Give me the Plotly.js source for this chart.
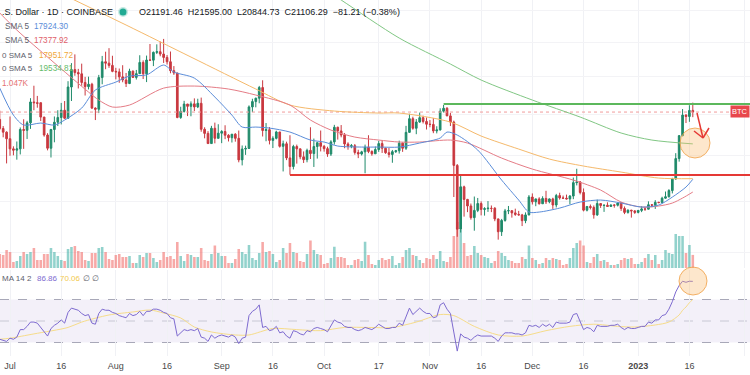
<!DOCTYPE html>
<html><head><meta charset="utf-8">
<script src="https://cdn.plot.ly/plotly-3.0.1.min.js"></script>
<style>html,body{margin:0;padding:0;background:#fff;}#chart{width:750px;height:375px;}</style>
</head><body><div id="chart"></div>
<script>
// ---- daily candles, Jun 28 2022 .. Jan 17 2023 ----
const firstDay = '2022-06-28';
const open = [20730,20280,20100,
19780,19300,19240,19300,20230,20190,20560,21630,21590,21590,20850,19960,19330,20230,20590,20830,21200,20790,22430,23400,23230,23160,22680,22450,22580,21310,21250,22950,23850,23770,23640,
23300,23270,22990,22820,22620,23310,22960,23170,23810,23160,23950,23940,24400,24440,24300,24100,23850,23340,23210,20830,21140,21520,21400,21530,21370,21560,20240,20040,19550,20290,19800,
20050,20130,19950,19830,20000,19800,18790,19290,19320,21370,21650,21830,22400,20180,20220,19700,19800,20110,19420,19540,18880,18490,19410,19300,18930,18800,19230,19080,19410,19590,
19420,19310,19060,19630,20340,20160,19960,19530,19420,19450,19130,19060,19160,19380,19180,19070,19270,19550,19330,19120,19040,19170,19210,19570,19330,20090,20770,20290,20600,20820,20630,
20490,20480,20160,20210,21150,21300,20910,20600,18540,15880,17600,17070,16800,16330,16620,16900,16660,16690,16700,16710,16280,15780,16220,16600,16610,16520,16460,16440,16210,16440,
17170,16970,17090,16890,17110,16970,17090,16840,17230,17130,17120,17090,17210,17780,17810,17360,16630,16780,16740,16440,16900,16820,16830,16780,16840,16830,16920,16700,16540,16630,16600,
16540,16620,16680,16670,16850,16830,16950,16940,17120,17180,17440,17940,18850,19930,20950,20880,21191.46];
const high = [21180,20400,20140,
20880,19420,19650,20330,20740,20660,21830,22500,21950,21600,20860,20050,20260,20880,21200,21580,21680,22750,23770,24280,23440,23740,22990,23000,22660,21350,23100,24190,24440,24650,24200,
23500,23460,23650,23210,23450,23350,23380,24230,23930,24210,24900,24450,24880,25050,25210,24240,24450,23600,23210,21380,21690,21530,21660,21820,21800,21860,20340,20150,20410,20570,20490,
20200,20440,20000,20010,20050,20180,19460,19450,21450,21800,21850,22490,22800,20550,20350,19900,20170,20110,19690,19640,19950,19490,19500,19310,19180,19310,20340,19790,19640,20180,
19480,19400,19710,20460,20370,20450,20060,19610,19530,19530,19260,19210,19500,19950,19230,19410,19680,19710,19350,19350,19250,19250,19690,19600,20410,21020,20870,20750,21080,20920,20830,
20700,20800,20390,21300,21470,21360,21060,20670,18600,18150,17650,17090,16900,17190,17130,16990,16750,17000,16820,16750,16290,16280,16680,16800,16610,16690,16600,16480,16540,17250,
17320,17100,17160,17200,17430,17110,17140,17300,17350,17230,17270,17250,18000,18390,17850,17530,16800,16860,16820,17060,16910,16860,16950,16860,16860,16940,16960,16780,16660,16640,16630,
16630,16790,16770,16990,16880,17040,16970,17180,17400,17500,17990,19100,19960,21260,21000,21460,21595.00];
const low = [20200,19850,18630,
18980,19000,18800,19040,19300,19770,20260,21200,21330,20650,19880,19230,18900,19610,20400,20480,20750,20770,21680,23050,22350,22500,21970,22300,21260,20700,21050,22580,23420,23500,23250,
22850,22660,22690,22430,22590,22930,22840,23150,22870,22700,23900,23600,24300,24170,23780,23690,23190,23100,20790,20760,21080,20900,20890,21160,21310,20120,19800,19540,19550,19560,19800,
19570,19760,19650,19600,19640,18680,18540,19020,19300,21100,21350,21560,19890,19660,19510,19340,19750,19360,18270,18780,18125,18360,18620,18820,18650,18680,18830,18470,18850,19180,
19170,18930,18970,19500,19740,19850,19330,19260,19330,19030,18870,18990,18190,19100,18980,19070,19160,19110,19070,18900,18660,19110,19080,19160,19250,20060,20220,20000,20560,20530,20230,
20340,20050,20040,20180,21080,20900,20400,17170,15588,15750,16370,16550,16250,15820,16550,16420,16410,16560,16550,16190,15480,15620,16170,16470,16330,16400,16410,16000,16110,16420,
16860,16790,16860,16880,16880,16910,16680,16740,17060,17090,17070,16870,17080,17660,17280,16580,16580,16660,16290,16400,16720,16560,16760,16760,16730,16780,16600,16470,16490,16330,16480,
16500,16550,16600,16660,16750,16680,16910,16910,17100,17150,17320,17910,18710,19900,20550,20610,20844.73];
const close = [20280,20100,19780,
19300,19240,19300,20230,20190,20560,21630,21590,21560,20850,19960,19330,20230,20590,20830,21200,20790,22430,23400,23230,23160,22680,22450,22580,21310,21250,22950,23850,23770,23640,23300,
23270,22990,22820,22620,23310,22960,23170,23810,23160,23950,23940,24400,24440,24300,24100,23850,23340,23210,20830,21140,21520,21400,21530,21370,21560,20240,20040,19550,20290,19800,20050,
20130,19950,19830,20000,19800,18790,19290,19320,21370,21650,21830,22400,20180,20220,19700,19800,20110,19420,19540,18880,18490,19410,19300,18930,18800,19230,19080,19410,19590,19420,
19310,19060,19630,20340,20160,19960,19530,19420,19450,19130,19060,19160,19380,19180,19070,19270,19550,19330,19120,19040,19170,19210,19570,19330,20090,20770,20290,20600,20820,20630,20490,
20480,20160,20210,21150,21300,20910,20600,18540,15880,17600,17070,16800,16330,16620,16900,16660,16690,16710,16700,16280,15780,16220,16600,16610,16520,16460,16440,16210,16440,17170,
16970,17090,16890,17110,16970,17090,16840,17230,17130,17120,17090,17210,17780,17810,17360,16630,16780,16740,16440,16900,16820,16830,16780,16840,16830,16920,16700,16540,16630,16600,16540,
16620,16680,16670,16850,16830,16950,16940,17120,17180,17440,17940,18850,19930,20950,20880,21187.50,21106.29];
const volumeK = [1.12,1.04,1.44,
1.28,0.48,0.56,0.96,1.28,1.12,1.28,1.6,0.64,0.64,1.12,1.12,1.6,1.28,0.96,0.64,0.56,1.52,1.68,1.76,1.36,1.28,0.64,0.56,1.2,1.2,1.6,1.68,1.28,0.72,0.64,
1.04,1.12,0.88,0.88,0.96,0.4,0.4,1.04,0.88,1.2,1.2,0.8,0.48,0.64,1.28,0.88,0.96,0.72,2.08,0.96,0.56,1.12,1.04,0.88,0.88,1.6,0.64,0.56,1.12,1.8,1.2,
0.96,0.96,0.4,0.4,0.72,1.52,1.28,1.12,1.84,0.8,0.64,1.2,2.08,1.28,1.36,1.12,0.48,0.64,1.6,1.2,2.0,1.28,1.2,0.56,0.48,1.12,2.2,1.44,1.12,1.04,
0.32,0.4,0.8,1.7,0.88,0.88,0.8,0.24,0.24,0.64,0.72,0.56,2.1,1.04,0.32,0.24,0.64,0.8,0.64,0.72,0.96,0.24,0.4,0.88,1.44,1.6,1.04,0.96,0.64,0.4,0.8,
0.72,1.04,0.72,1.36,0.56,0.48,0.88,2.56,3.68,3.04,2.0,0.96,1.04,1.76,1.2,1.04,0.88,0.8,0.4,0.56,1.36,1.2,0.96,0.64,0.56,0.4,0.4,0.88,0.72,1.8,
0.8,0.64,0.32,0.4,0.8,0.64,0.8,0.72,0.64,0.24,0.32,0.8,1.6,2.0,2.2,1.8,0.48,0.4,0.88,1.12,0.56,0.64,0.48,0.24,0.24,0.32,0.64,0.8,0.72,0.8,0.32,
0.32,0.48,0.8,1.12,0.64,1.04,0.32,0.64,1.44,1.2,1.12,2.72,2.56,2.56,1.2,1.84,1.047];
const rsi = [33,32,31,
34,33,35,42,42,45,49,49,48,44,40,36,43,46,48,51,48,58,62,61,60,57,55,56,48,47,57,61,60,60,58,
57,55,54,53,57,55,56,59,55,59,59,61,61,60,58,57,53,52,36,39,42,41,42,41,43,35,34,31,37,34,36,
37,36,35,37,35,29,34,35,55,59,61,65,44,45,41,42,45,39,40,36,34,41,40,38,37,41,40,43,44,43,
42,40,45,51,49,48,45,44,44,42,41,42,44,43,42,44,47,45,43,43,44,44,48,46,55,62,56,59,62,59,57,
57,53,54,65,67,61,57,38,22,38,35,34,32,35,37,36,36,36,36,34,31,36,39,39,39,38,38,37,39,46,
45,46,44,47,45,47,44,49,48,48,48,49,56,57,50,42,44,43,40,46,45,45,45,46,46,47,44,42,44,43,43,
44,45,45,49,48,51,51,55,56,61,68,77,83,87,86,87,86.86];

const sma20Dates = ['2022-06-28','2022-07-02','2022-07-05','2022-07-10','2022-07-14','2022-07-17','2022-07-22','2022-07-26','2022-08-01','2022-08-05','2022-08-10','2022-08-15','2022-08-18','2022-08-24','2022-08-30','2022-09-04','2022-09-07','2022-09-11','2022-09-15','2022-09-21','2022-09-27','2022-10-01','2022-10-05','2022-10-12','2022-10-17','2022-10-23','2022-10-29','2022-11-04','2022-11-06','2022-11-09','2022-11-15','2022-11-22','2022-11-27','2022-11-30','2022-12-03','2022-12-09','2022-12-15','2022-12-21','2022-12-27','2023-01-02','2023-01-07','2023-01-11','2023-01-15','2023-01-17'];
const sma20 = [22370,20950,20450,20550,20450,20700,21310,22265,22700,23035,23100,23660,23260,22920,21890,20950,20350,20350,20300,20105,19718,19623,19433,19385,19385,19385,19575,19814,20105,19958,19245,17891,17043,16553,16553,16714,16960,17043,16919,16755,16836,17166,17590,17924.30];
const sma50Dates = ['2022-06-28','2022-07-03','2022-07-13','2022-07-24','2022-07-27','2022-07-31','2022-08-05','2022-08-15','2022-08-24','2022-09-03','2022-09-11','2022-09-21','2022-09-27','2022-10-03','2022-10-10','2022-10-17','2022-10-23','2022-10-29','2022-11-07','2022-11-12','2022-11-22','2022-12-01','2022-12-13','2022-12-21','2022-12-27','2023-01-02','2023-01-07','2023-01-11','2023-01-14','2023-01-17'];
const sma50 = [26850,25760,23950,22157,21730,21364,21468,22370,22482,22320,21996,21468,20700,20203,19861,19718,19623,19623,19718,19575,18873,18375,17891,17462,16960,16755,16796,16919,17126,17377.92];
const sma100Dates = ['2022-07-15','2022-08-04','2022-08-23','2022-09-11','2022-09-21','2022-10-04','2022-10-17','2022-10-23','2022-11-07','2022-11-16','2022-11-27','2022-12-06','2022-12-16','2022-12-27','2023-01-07','2023-01-17'];
const sma100 = [28253,26075,24124,22320,21468,21157,21055,21055,20599,19911,19291,18828,18511,18242,17978,17951.72];
const sma200Dates = ['2022-09-27','2022-10-06','2022-10-23','2022-11-07','2022-11-16','2022-12-01','2022-12-15','2022-12-27','2023-01-05','2023-01-17'];
const sma200 = [29088,27709,25264,23717,22813,21730,20851,20057,19718,19534.81];
const rsiMaDates = ['2022-06-28','2022-07-01','2022-07-08','2022-07-18','2022-07-22','2022-07-30','2022-08-06','2022-08-11','2022-08-15','2022-08-20','2022-08-24','2022-08-29','2022-09-05','2022-09-09','2022-09-16','2022-09-23','2022-09-30','2022-10-07','2022-10-14','2022-10-21','2022-10-28','2022-11-04','2022-11-08','2022-11-14','2022-11-21','2022-11-28','2022-12-05','2022-12-12','2022-12-19','2022-12-26','2022-12-31','2023-01-06','2023-01-10','2023-01-13','2023-01-14','2023-01-15','2023-01-16','2023-01-17'];
const rsiMa = [33,34,38,44,49,55.6,58.4,60.2,57.4,52.8,44.4,39.8,37,37,43,42,41,44,44,44,49,56,55,45,37,36,41,45,47,45,44.4,46.3,49,55.6,60,63,67,70.06];

// ---- horizontal levels ----
const levelDates = ['2022-11-05','2022-09-21'];
const levelPrices = [21520, 18110];
const lastPrice = 21106.29;

// ---- axis ticks ----
const tickDates = ['2022-07-01','2022-07-16','2022-08-01','2022-08-16','2022-09-01','2022-09-16','2022-10-01','2022-10-17','2022-11-01','2022-11-16','2022-12-01','2022-12-16','2023-01-01','2023-01-16','2023-02-01'];
const tickLabels = ['Jul','16','Aug','16','Sep','16','Oct','17','Nov','16','Dec','16','<b>2023</b>','16','Feb'];

const dates = close.map((_, i) => new Date(Date.parse(firstDay + 'T00:00:00Z') + i * 864e5).toISOString().slice(0, 10));
const xStart = '2022-06-28 01:40', xEnd = '2023-02-02 18:00';
const UP = '#1f8a6a', DN = '#c9383f';
const volColors = close.map((c, i) => c >= open[i] ? 'rgba(38,166,154,0.5)' : 'rgba(239,83,80,0.5)');

const traces = [
  {type:'bar', x:dates, y:volumeK, xaxis:'x', yaxis:'y', marker:{color:volColors, line:{width:0}}, hoverinfo:'skip'},
  {type:'scatter', mode:'lines', x:[xStart, xEnd], y:[lastPrice, lastPrice], xaxis:'x', yaxis:'y3', line:{color:'#f19c9c', width:1, dash:'dot'}, hoverinfo:'skip'},
  {type:'candlestick', x:dates, open:open, high:high, low:low, close:close, xaxis:'x', yaxis:'y3', whiskerwidth:0,
    increasing:{line:{color:UP, width:1}, fillcolor:UP}, decreasing:{line:{color:DN, width:1}, fillcolor:DN}, hoverinfo:'skip'},
  {type:'scatter', mode:'lines', x:sma200Dates, y:sma200, xaxis:'x', yaxis:'y3', line:{color:'#81c784', width:1, shape:'spline', smoothing:0.8}},
  {type:'scatter', mode:'lines', x:sma100Dates, y:sma100, xaxis:'x', yaxis:'y3', line:{color:'#f5b96b', width:1, shape:'spline', smoothing:0.8}},
  {type:'scatter', mode:'lines', x:sma50Dates, y:sma50, xaxis:'x', yaxis:'y3', line:{color:'#e57c86', width:1, shape:'spline', smoothing:0.8}},
  {type:'scatter', mode:'lines', x:sma20Dates, y:sma20, xaxis:'x', yaxis:'y3', line:{color:'#5b8dd9', width:1, shape:'spline', smoothing:0.8}},
  {type:'scatter', mode:'lines', x:[levelDates[0], xEnd], y:[levelPrices[0], levelPrices[0]], xaxis:'x', yaxis:'y3', line:{color:'#5cb85c', width:2}},
  {type:'scatter', mode:'lines', x:[levelDates[1], xEnd], y:[levelPrices[1], levelPrices[1]], xaxis:'x', yaxis:'y3', line:{color:'#e53935', width:2}},
  {type:'scatter', mode:'lines', x:rsiMaDates, y:rsiMa, xaxis:'x', yaxis:'y2', line:{color:'#f6dc8a', width:1, shape:'spline', smoothing:0.8}},
  {type:'scatter', mode:'lines', x:dates, y:rsi, xaxis:'x', yaxis:'y2', line:{color:'#7e6bd0', width:1}}
];

const px = x => x / 750, py = y => 1 - y / 375;
const ann = (x, y, text, color, size, extra) => Object.assign({xref:'paper', yref:'paper', x:px(x), y:py(y), text:text, showarrow:false, xanchor:'left', yanchor:'middle', font:{size:size, color:color}}, extra || {});

const annotations = [
  ann(0, 12, '.S. Dollar · 1D · COINBASE', '#131722', 9),
  ann(137, 12, 'O21191.46  H21595.00  L20844.73  C21106.29  −81.21 (−0.38%)', '#131722', 9),
  ann(3, 26, 'SMA 5', '#5d606b', 8.2), ann(32, 26, '17924.30', '#5b8dd9', 8.2),
  ann(3, 41, 'SMA 5', '#5d606b', 8.2), ann(32, 41, '17377.92', '#e0606a', 8.2),
  ann(0, 55, '0 SMA 5', '#5d606b', 8), ann(37, 55, '17951.72', '#f0a73a', 8.2),
  ann(0, 69, '0 SMA 5', '#5d606b', 8), ann(37, 69, '19534.81', '#66bb6a', 8.2),
  ann(0, 84, '1.047K', '#e57373', 8.2),
  ann(0, 278, 'MA 14 2', '#5d606b', 8), ann(35, 278, '86.86', '#7e6bd0', 8), ann(58, 278, '70.06', '#f2c94c', 8),
  ann(81, 278, '∅', '#5d606b', 8), ann(90, 278, '∅', '#5d606b', 8),
  {xref:'paper', yref:'paper', x:1, y:py(112), text:'BTC', showarrow:false, xanchor:'right', yanchor:'middle',
    bgcolor:'#e8474c', borderpad:1, font:{size:7.5, color:'#ffffff'}}
];

const shapes = [
  {type:'rect', xref:'paper', yref:'y2', x0:0, x1:1, y0:30, y1:70, fillcolor:'rgba(126,87,194,0.09)', line:{width:0}, layer:'below'},
  {type:'line', xref:'paper', yref:'y2', x0:0, x1:1, y0:70, y1:70, line:{color:'#a8a8b8', width:1, dash:'dash'}, layer:'below'},
  {type:'line', xref:'paper', yref:'y2', x0:0, x1:1, y0:50, y1:50, line:{color:'#c8c8d4', width:1, dash:'dash'}, layer:'below'},
  {type:'line', xref:'paper', yref:'y2', x0:0, x1:1, y0:30, y1:30, line:{color:'#a8a8b8', width:1, dash:'dash'}, layer:'below'},
  {type:'circle', xref:'paper', yref:'paper', x0:px(680), x1:px(710), y0:py(158), y1:py(128), fillcolor:'rgba(250,185,110,0.35)', line:{color:'rgba(240,160,70,0.8)', width:1}},
  {type:'circle', xref:'paper', yref:'paper', x0:px(679), x1:px(707), y0:py(295), y1:py(267), fillcolor:'rgba(250,185,110,0.35)', line:{color:'rgba(240,160,70,0.8)', width:1}},
  {type:'line', xref:'paper', yref:'paper', x0:px(697), y0:py(113), x1:px(703), y1:py(138), line:{color:'#e53935', width:1.5}},
  {type:'line', xref:'paper', yref:'paper', x0:px(694), y0:py(131), x1:px(703), y1:py(138), line:{color:'#e53935', width:1.5}},
  {type:'line', xref:'paper', yref:'paper', x0:px(709), y0:py(128), x1:px(703), y1:py(138), line:{color:'#e53935', width:1.5}},
  {type:'circle', xref:'paper', yref:'paper', x0:px(119.5), x1:px(126.5), y0:py(15.5), y1:py(8.5), fillcolor:'#22ab94', line:{color:'rgba(34,171,148,0.25)', width:3}}
];

const layout = {
  width:750, height:375, margin:{l:0, r:0, t:0, b:0}, paper_bgcolor:'#ffffff', plot_bgcolor:'#ffffff',
  showlegend:false, bargap:0.25, hovermode:false,
  font:{family:'Liberation Sans, Arial, sans-serif', size:9, color:'#555'},
  xaxis:{type:'date', domain:[0,1], anchor:'y2', range:[xStart, xEnd], tickvals:tickDates, ticktext:tickLabels,
    showgrid:true, gridcolor:'#f0f1f5', zeroline:false, showline:false, ticks:'', tickfont:{size:9, color:'#4a4a4a'},
    rangeslider:{visible:false}, fixedrange:true, ticklabelstandoff:3},
  yaxis:{domain:[0.28533, 1], range:[0, 21.44], showgrid:false, showticklabels:false, zeroline:false, fixedrange:true},
  yaxis3:{overlaying:'y', type:'log', range:[4.15985, 4.44264], showticklabels:false, showgrid:true, gridcolor:'#f3f3f6',
    tickvals:[15000,17000,19000,21000,23000,25000,27000], zeroline:false, fixedrange:true},
  yaxis2:{domain:[0.050667, 0.28], range:[17.44, 97.44], showgrid:false, showticklabels:false, zeroline:false, fixedrange:true},
  annotations:annotations, shapes:shapes
};

Plotly.newPlot('chart', traces, layout, {staticPlot:true, displayModeBar:false});
</script></body></html>
